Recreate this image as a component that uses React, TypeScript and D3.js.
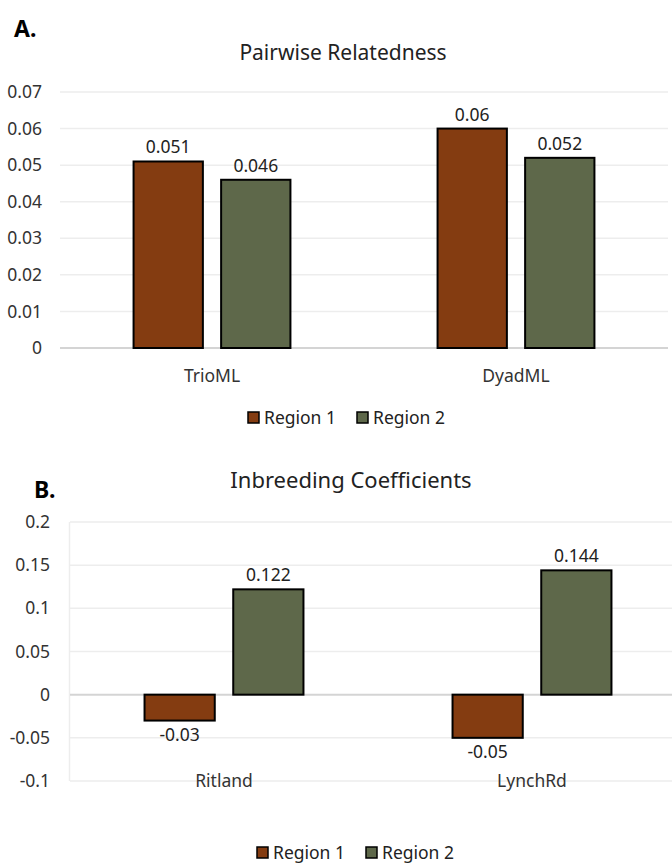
import React from "react";
import * as d3 from "d3";

const seriesNames = ["Region 1", "Region 2"];
const seriesColors = ["#843C11", "#5E684A"];

const catsA = ["TrioML", "DyadML"];
const region1A = [0.051, 0.06];
const region2A = [0.046, 0.052];
const labelsA1 = ["0.051", "0.06"];
const labelsA2 = ["0.046", "0.052"];
const ticksA = [0, 0.01, 0.02, 0.03, 0.04, 0.05, 0.06, 0.07];
const tickLabelsA = ["0", "0.01", "0.02", "0.03", "0.04", "0.05", "0.06", "0.07"];

const catsB = ["Ritland", "LynchRd"];
const region1B = [-0.03, -0.05];
const region2B = [0.122, 0.144];
const labelsB1 = ["-0.03", "-0.05"];
const labelsB2 = ["0.122", "0.144"];
const ticksB = [-0.1, -0.05, 0, 0.05, 0.1, 0.15, 0.2];
const tickLabelsB = ["-0.1", "-0.05", "0", "0.05", "0.1", "0.15", "0.2"];

const FONT = "'Noto Sans', 'Open Sans', sans-serif";
const FS = 17.5;

type PanelProps = {
  letter: string;
  letterX: number;
  letterY: number;
  title: string;
  titleX: number;
  titleY: number;
  titleSize: number;
  cats: string[];
  s1: number[];
  s2: number[];
  l1: string[];
  l2: string[];
  ticks: number[];
  tickLabels: string[];
  x0: number;
  x1: number;
  yTop: number;
  yBottom: number;
  domain: [number, number];
  tickRight: number;
  catLabelY: number;
  legendX: number;
  legendY: number;
  border: boolean;
};

function Panel(p: PanelProps) {
  const x = d3.scaleBand<string>().domain(p.cats).range([p.x0, p.x1]);
  const y = d3.scaleLinear().domain(p.domain).range([p.yBottom, p.yTop]);
  const bw = x.bandwidth();
  const barW = bw * 0.228;
  const gap = bw * 0.06;
  const series = [
    { vals: p.s1, labels: p.l1, color: seriesColors[0] },
    { vals: p.s2, labels: p.l2, color: seriesColors[1] },
  ];
  return (
    <g>
      <text x={p.letterX} y={p.letterY} fontFamily={FONT} fontWeight="bold" fontSize={23} fill="#000">
        {p.letter}
      </text>
      <text x={p.titleX} y={p.titleY} fontFamily={FONT} fontSize={p.titleSize} fill="#222" textAnchor="middle">
        {p.title}
      </text>
      {p.border && (
        <line x1={p.x0 - 0.5} x2={p.x0 - 0.5} y1={p.yTop} y2={p.yBottom} stroke="#ededed" strokeWidth={1.5} />
      )}
      {p.ticks.map((t, i) => (
        <g key={i}>
          <line
            x1={p.x0}
            x2={p.x1}
            y1={y(t)}
            y2={y(t)}
            stroke={t === 0 ? "#d4d4d4" : "#ededed"}
            strokeWidth={t === 0 ? 2 : 1.5}
          />
          <text
            x={p.tickRight}
            y={y(t)}
            dy="0.35em"
            textAnchor="end"
            fontFamily={FONT}
            fontSize={FS}
            fill="#333"
          >
            {p.tickLabels[i]}
          </text>
        </g>
      ))}
      {p.cats.map((c, ci) => {
        const cx = (x(c) as number) + bw / 2;
        return (
          <g key={c}>
            {series.map((s, si) => {
              const v = s.vals[ci];
              const bx = si === 0 ? cx - gap / 2 - barW : cx + gap / 2;
              const yt = Math.min(y(v), y(0));
              const h = Math.abs(y(v) - y(0));
              const ly = v >= 0 ? y(v) - 8 : y(v) + 20;
              return (
                <g key={si}>
                  <rect x={bx} y={yt} width={barW} height={h} fill={s.color} stroke="#000" strokeWidth={2} />
                  <text
                    x={bx + barW / 2}
                    y={ly}
                    textAnchor="middle"
                    fontFamily={FONT}
                    fontSize={FS}
                    fill="#222"
                  >
                    {s.labels[ci]}
                  </text>
                </g>
              );
            })}
            <text x={cx} y={p.catLabelY} textAnchor="middle" fontFamily={FONT} fontSize={FS} fill="#333">
              {c}
            </text>
          </g>
        );
      })}
      {seriesNames.map((n, i) => {
        const lx = p.legendX + i * 109;
        return (
          <g key={n}>
            <rect x={lx} y={p.legendY - 6} width={11} height={11} fill={seriesColors[i]} stroke="#000" strokeWidth={1.5} />
            <text x={lx + 16} y={p.legendY} dy="0.35em" fontFamily={FONT} fontSize={FS} fill="#222">
              {n}
            </text>
          </g>
        );
      })}
    </g>
  );
}

export default function App() {
  return (
    <svg width={672} height={864} style={{ position: "absolute", left: 0, top: 0, background: "#fff" }}>
      <rect x={0} y={0} width={672} height={864} fill="#fff" />
      <Panel
        letter="A."
        letterX={14}
        letterY={37}
        title="Pairwise Relatedness"
        titleX={343}
        titleY={60}
        titleSize={21}
        cats={catsA}
        s1={region1A}
        s2={region2A}
        l1={labelsA1}
        l2={labelsA2}
        ticks={ticksA}
        tickLabels={tickLabelsA}
        x0={60}
        x1={668}
        yTop={92}
        yBottom={348}
        domain={[0, 0.07]}
        tickRight={42}
        catLabelY={382}
        legendX={248}
        legendY={418}
        border={false}
      />
      <Panel
        letter="B."
        letterX={34}
        letterY={498}
        title="Inbreeding Coefficients"
        titleX={351}
        titleY={488}
        titleSize={22}
        cats={catsB}
        s1={region1B}
        s2={region2B}
        l1={labelsB1}
        l2={labelsB2}
        ticks={ticksB}
        tickLabels={tickLabelsB}
        x0={70}
        x1={686}
        yTop={522}
        yBottom={781}
        domain={[-0.1, 0.2]}
        tickRight={50}
        catLabelY={787}
        legendX={257}
        legendY={853}
        border={true}
      />
    </svg>
  );
}
